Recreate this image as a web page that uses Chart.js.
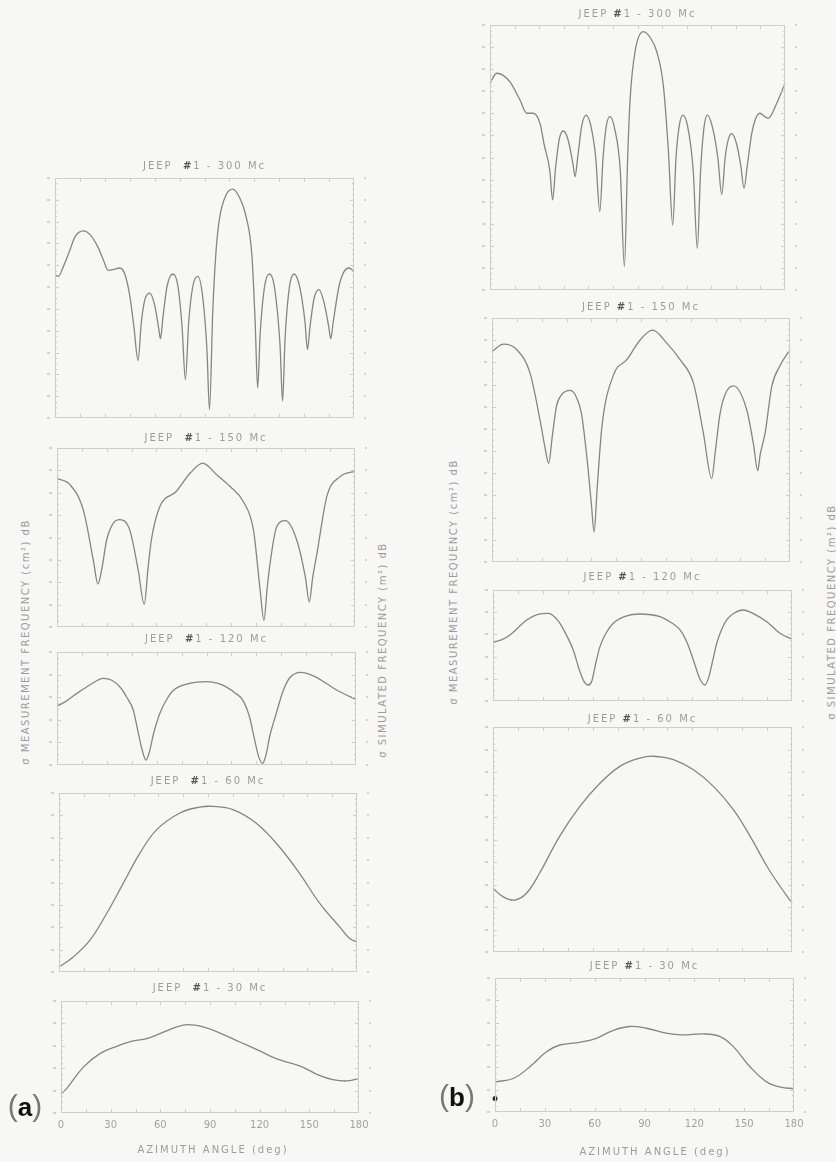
<!DOCTYPE html>
<html>
<head>
<meta charset="utf-8">
<script src="https://cdn.jsdelivr.net/npm/chart.js@4.4.0/dist/chart.umd.min.js"></script>
<style>
  body { margin: 0; width: 836px; height: 1162px; background: #f7f7f5; position: relative; overflow: hidden;
         font-family: 'DejaVu Sans', sans-serif; color: #9c9c9c; }
  canvas { position: absolute; }
  .t { position: absolute; font-size: 10px; letter-spacing: 2px; white-space: pre; transform: translate(-50%, -50%); }
  .t b { color: #555; }
  .v { position: absolute; font-size: 10px; letter-spacing: 1.5px; white-space: pre; transform: translate(-50%, -50%) rotate(-90deg); }
  .tag { position: absolute; font-family: 'Liberation Sans', sans-serif; font-size: 30px; color: #777; transform: translate(-50%, -50%); }
  .tag b { color: #111; font-size: 26px; }
</style>
</head>
<body>
<script>
// ===== DATA (azimuth deg / relative level) =====
const xTickLabels = [0, 30, 60, 90, 120, 150, 180];

// (a) column
const l300Deg = [0, 2, 5, 9, 12, 17, 21, 26, 29, 32, 36, 39, 42, 45, 47.5, 50, 52, 54, 57, 60, 62.5, 63.5, 65, 67.5, 71, 74, 76.5, 78.5, 80.5, 83, 86, 89, 91.5, 93, 95, 97, 99, 103, 107, 111, 115, 118.5, 120.5, 122, 123.5, 126, 129, 132, 135.5, 137, 138.5, 141, 144, 147.5, 150.5, 152, 153.5, 156, 159, 162, 164.8, 166, 167.5, 171, 174, 177, 180];
const l300Val = [59.7, 59, 63, 70, 75.5, 78, 76.5, 71, 66, 61.5, 62, 62.5, 60, 51, 38, 24, 40, 49, 52, 47, 37, 33, 42, 55, 60, 55, 38, 16, 40, 55, 59, 50, 28, 3.5, 45, 70, 83, 93, 95.4, 92, 84, 68, 40, 12.5, 35, 54, 60, 55, 30, 7, 33, 54, 60, 54, 40, 28.5, 38, 50, 53.5, 48, 38, 33, 40, 55, 61, 62.5, 61];

const l150Deg = [0, 8, 16, 22, 24.7, 27, 30, 34, 38, 44, 49, 52.7, 55, 57, 62, 72, 80.5, 88, 96.5, 104.6, 112.6, 118.7, 122.7, 125, 127, 128.7, 132.7, 138, 144.8, 150, 152.4, 154.5, 157, 163, 171, 180];
const l150Val = [83, 79.4, 65, 37, 24, 32, 48.6, 58, 60, 54, 32, 12.7, 33, 48.6, 67, 75.7, 86, 91.6, 85, 78.5, 70, 54, 20.6, 3.7, 22, 35.5, 56, 59.4, 48.6, 28, 14, 28, 41, 73, 84, 87];

const l120Deg = [0, 6, 12, 20, 27.9, 33, 37.9, 42, 45.9, 49, 51.5, 53.6, 55.7, 58, 62, 66, 70, 80, 90, 100, 107, 112, 116, 119, 121.5, 123.8, 126, 128, 132, 136, 140, 147, 155, 162, 170, 180];
const l120Val = [52, 57, 63.4, 71, 76.7, 75, 69, 60, 48.7, 28, 12, 4.4, 12, 27, 46, 58, 66, 72.3, 73.7, 70.5, 64, 57, 42, 22, 7, 1.5, 10, 25, 45.7, 65, 77, 82, 78.5, 72.3, 65, 58];

const l60Deg = [0, 8.6, 18.7, 28.8, 38.8, 48.9, 58.9, 73, 85, 93, 105, 119, 133, 145.4, 157.5, 169.5, 175.6, 180];
const l60Val = [2.8, 8.4, 17.8, 32.7, 49.5, 66.4, 79.4, 88.8, 92.1, 92.5, 90.7, 83.2, 70, 55, 38.3, 25.2, 18.7, 16.8];

const l30Deg = [0, 3.4, 13.5, 23.5, 33.6, 43.6, 51.7, 59.7, 69.8, 76.8, 85.9, 96, 108, 120, 130, 140, 146, 156, 164.3, 172.4, 180];
const l30Val = [17.3, 21.7, 41, 53, 59.5, 64.3, 66.4, 70.8, 76.8, 78.9, 76.8, 71.4, 63.4, 55.4, 48.5, 44, 41, 33.6, 29.8, 28.6, 30.7];

// (b) column
const r300Deg = [0, 4, 8, 12.2, 18.3, 22.4, 26.4, 30.5, 33, 36.5, 38.2, 40, 42.3, 44.7, 47.5, 50.5, 51.9, 53.5, 56, 58.6, 61.5, 64.5, 67, 69, 71, 73.2, 76, 79.5, 82, 84, 85.5, 88.5, 93.6, 98, 101.7, 105.8, 108.8, 111.5, 113.5, 115.5, 117.6, 120.5, 124, 126.5, 128.5, 130.5, 132.6, 135.5, 139, 141.4, 143.5, 145.5, 147.5, 150.5, 153, 155, 157, 160, 164.7, 167.5, 169.8, 174.9, 180];
const r300Val = [78, 81.8, 81, 78.5, 71.7, 66.7, 66.7, 62.9, 55, 45, 34, 46, 57, 60, 57, 48, 42.8, 50, 62, 66, 62, 50, 29.6, 50, 62, 65.4, 61, 45, 8.8, 50, 72, 90, 97.5, 95, 90, 77, 53, 24.5, 50, 62, 66, 62, 45, 15.7, 45, 61, 66, 62, 50, 36, 50, 57, 59, 55, 47, 38.4, 47, 60, 66.7, 65.5, 64.8, 70.4, 78];

const r150Deg = [0, 7, 15, 23, 29, 32, 34.2, 36.5, 39, 42, 47.3, 51, 54, 57.3, 60, 61.7, 63.5, 66.4, 73.4, 81.4, 89.5, 97, 105.6, 113.6, 121.7, 127.7, 132.7, 135, 137.8, 141, 145.8, 153.9, 158, 160.5, 162, 165, 169, 174, 180];
const r150Val = [86.3, 89.3, 87, 77.4, 58.2, 47, 40.4, 52, 64, 68.5, 70.3, 67.5, 61, 43, 24, 12.3, 30, 55.5, 76.7, 82.9, 91, 95, 89.7, 82.9, 73.3, 52.7, 34.2, 46, 61, 69, 72.2, 62.3, 48, 37.4, 44, 53, 72, 80.5, 87];

const r120Deg = [0, 5, 10.2, 20.3, 27, 33.3, 37, 40.3, 44, 48.3, 52, 55, 57.4, 59.5, 62, 64.4, 68, 72.4, 80, 88.5, 100.5, 107, 112.6, 117, 120.6, 124.5, 127.6, 130, 132.5, 134.7, 137.5, 140.7, 145, 150.7, 157, 164.8, 172.8, 180];
const r120Val = [52.9, 55, 59.5, 73, 78, 79, 76, 70, 60, 46, 28, 17, 14.4, 18, 35, 49, 61, 70, 76.5, 78.4, 76, 71, 64, 52, 37, 20, 14.4, 22, 38, 52, 64, 73, 79, 82, 78.5, 71.4, 61, 55.6];

const r60Deg = [0, 6, 13, 20, 28, 40, 52.3, 64.4, 76.4, 88.5, 96.5, 108.6, 120.7, 132.7, 144.8, 154.9, 165, 173, 180];
const r60Val = [28.3, 24.6, 23.1, 26, 35, 51.3, 64.7, 75, 82.5, 86.2, 87, 85.5, 81, 73.6, 63.2, 51.3, 38, 29, 21.7];

const r30Deg = [0, 11, 21, 31, 39, 51, 61, 71, 81, 91, 103, 113, 125, 135.5, 143.5, 153.5, 163.5, 172, 180];
const r30Val = [22.5, 25, 33.8, 45, 50, 52, 55, 60.8, 63.8, 62.5, 58.8, 57.5, 58.3, 56.3, 48.8, 33.8, 22.5, 18.5, 17.5];
const r30DotDeg = [0];
const r30DotVal = [10];

// ===== LAYOUT (frame = chart area: left, top, right, bottom) =====
const PANELS = [
  { title: 'JEEP  #1 - 300 Mc', frame: [55, 178, 354, 418], titleY: 165, deg: l300Deg, val: l300Val },
  { title: 'JEEP  #1 - 150 Mc', frame: [57, 448, 355, 627], titleY: 437, deg: l150Deg, val: l150Val },
  { title: 'JEEP  #1 - 120 Mc', frame: [57, 652, 356, 765], titleY: 638, deg: l120Deg, val: l120Val },
  { title: 'JEEP  #1 - 60 Mc', frame: [59, 793, 357, 972], titleY: 780, deg: l60Deg, val: l60Val, smooth: true },
  { title: 'JEEP  #1 - 30 Mc', frame: [61, 1001, 359, 1113], titleY: 987, deg: l30Deg, val: l30Val, smooth: true, labels: true },
  { title: 'JEEP #1 - 300 Mc', frame: [490, 25, 785, 290], titleY: 13, deg: r300Deg, val: r300Val },
  { title: 'JEEP #1 - 150 Mc', frame: [492, 318, 790, 562], titleY: 306, deg: r150Deg, val: r150Val },
  { title: 'JEEP #1 - 120 Mc', frame: [493, 590, 792, 701], titleY: 576, deg: r120Deg, val: r120Val },
  { title: 'JEEP #1 - 60 Mc', frame: [493, 727, 792, 952], titleY: 718, deg: r60Deg, val: r60Val, smooth: true },
  { title: 'JEEP #1 - 30 Mc', frame: [495, 978, 794, 1112], titleY: 965, deg: r30Deg, val: r30Val, smooth: true, labels: true,
    dotDeg: r30DotDeg, dotVal: r30DotVal },
];

const COLORS = {
  curve: '#858585',
  frame: '#cdcdcd',
  tickText: '#a2a2a2',
  dot: '#333333',
};

// ===== FRAME / TICKS PLUGIN =====
const framePlugin = {
  id: 'frame',
  afterDraw(chart, args, opts) {
    const { ctx, chartArea: a, scales: { x } } = chart;
    ctx.save();
    ctx.strokeStyle = COLORS.frame;
    ctx.lineWidth = 1;
    ctx.strokeRect(a.left + 0.5, a.top + 0.5, a.width - 1, a.height - 1);

    ctx.beginPath();
    for (let d = 15; d < 180; d += 15) {
      const px = Math.round(x.getPixelForValue(d)) + 0.5;
      ctx.moveTo(px, a.top); ctx.lineTo(px, a.top + 4);
      ctx.moveTo(px, a.bottom); ctx.lineTo(px, a.bottom - 4);
    }
    const n = Math.max(1, Math.round(a.height / 22));
    for (let i = 1; i < n * 4; i++) {
      const py = Math.round(a.bottom - i * a.height / (n * 4)) + 0.5;
      const len = i % 4 === 0 ? 4 : 2;
      ctx.moveTo(a.left, py); ctx.lineTo(a.left + len, py);
      ctx.moveTo(a.right, py); ctx.lineTo(a.right - len, py);
    }
    ctx.stroke();

    // tiny, unreadable scale marks beside the frame
    ctx.fillStyle = '#d2d2d2';
    for (let i = 0; i <= n; i++) {
      const py = Math.round(a.bottom - i * a.height / n);
      ctx.fillRect(a.left - 8, py - 1, 3, 2);
      ctx.fillRect(a.right + 10, py - 1, 2, 2);
    }

    if (opts.labels) {
      ctx.fillStyle = COLORS.tickText;
      ctx.font = '10px "DejaVu Sans"';
      ctx.textAlign = 'center';
      ctx.textBaseline = 'middle';
      xTickLabels.forEach((v) => ctx.fillText(String(v), x.getPixelForValue(v), a.bottom + 12));
    }
    ctx.restore();
  },
};

function addText(cls, html, x, y) {
  const el = document.createElement('div');
  el.className = cls;
  el.innerHTML = html;
  el.style.left = x + 'px';
  el.style.top = y + 'px';
  document.body.appendChild(el);
  return el;
}

const PAD = 16;
PANELS.forEach((p) => {
  if (p.deg.length !== p.val.length) console.error('length mismatch', p.title);
  const [l, t, r, b] = p.frame;
  const padBottom = p.labels ? 30 : PAD;
  const canvas = document.createElement('canvas');
  canvas.width = r - l + 2 * PAD;
  canvas.height = b - t + PAD + padBottom;
  canvas.style.left = (l - PAD) + 'px';
  canvas.style.top = (t - PAD) + 'px';
  document.body.appendChild(canvas);

  const datasets = [{
    data: p.deg.map((d, i) => ({ x: d, y: p.val[i] })),
    borderColor: COLORS.curve,
    borderWidth: 1.3,
    pointRadius: 0,
    cubicInterpolationMode: p.smooth ? 'default' : 'monotone',
    tension: p.smooth ? 0.4 : 0,
    clip: 2,
  }];
  if (p.dotDeg) {
    datasets.push({
      data: p.dotDeg.map((d, i) => ({ x: d, y: p.dotVal[i] })),
      showLine: false,
      pointRadius: 2.5,
      pointBackgroundColor: COLORS.dot,
      pointBorderWidth: 0,
      clip: 4,
    });
  }

  new Chart(canvas, {
    type: 'line',
    data: { datasets },
    options: {
      responsive: false,
      animation: false,
      layout: { padding: { left: PAD, right: PAD, top: PAD, bottom: padBottom } },
      scales: {
        x: { type: 'linear', min: 0, max: 180, display: false },
        y: { type: 'linear', min: 0, max: 100, display: false },
      },
      plugins: {
        legend: { display: false },
        tooltip: { enabled: false },
        frame: { labels: !!p.labels },
      },
    },
    plugins: [framePlugin],
  });

  addText('t', p.title.replace('#', '<b>#</b>'), (l + r) / 2, p.titleY);
});

// axis titles and panel tags
addText('t', 'AZIMUTH ANGLE (deg)', 213, 1149);
addText('t', 'AZIMUTH ANGLE (deg)', 655, 1151);
addText('v', 'σ MEASUREMENT FREQUENCY (cm²) dB', 25, 642);
addText('v', 'σ SIMULATED FREQUENCY (m²) dB', 382, 650);
addText('v', 'σ MEASUREMENT FREQUENCY (cm²) dB', 453, 582);
addText('v', 'σ SIMULATED FREQUENCY (m²) dB', 831, 612);
addText('tag', '(<b>a</b>)', 25, 1106);
addText('tag', '(<b>b</b>)', 457, 1096);
</script>
</body>
</html>
